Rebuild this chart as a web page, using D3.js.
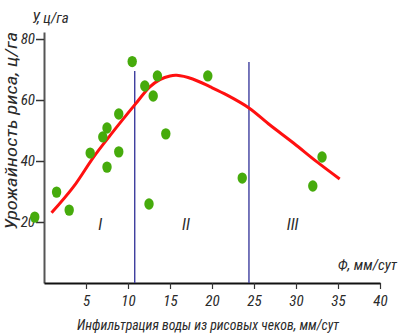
<!DOCTYPE html>
<html>
<head>
<meta charset="utf-8">
<script src="https://cdn.jsdelivr.net/npm/d3@7"></script>
<style>
body { margin:0; background:#fff; }
svg text { font-family:"Liberation Sans Narrow","Roboto Condensed","DejaVu Sans Condensed",sans-serif; font-style:italic; fill:#2a2a2a; }
</style>
</head>
<body>
<div id="spread"><svg></svg></div>
<script>
// measured points (infiltration, yield)
var pointsX = [-1.1, 1.5, 3.0, 5.5, 7.0, 7.5, 7.5, 8.9, 8.9, 10.5, 12.0, 12.5, 13.0, 13.5, 14.5, 19.5, 23.6, 32.0, 33.1];
var pointsY = [21.6, 29.8, 23.9, 42.6, 47.9, 50.8, 38.0, 55.4, 43.0, 72.6, 64.6, 25.9, 61.3, 67.9, 48.9, 67.9, 34.4, 31.8, 41.3];

// fitted curve
var curveX = [0.9, 3.5, 5.9, 7.9, 10.8, 12.6, 13.8, 15.0, 15.8, 17.7, 19.8, 21.8, 24.4, 26.9, 29.7, 32.5, 35.2];
var curveY = [23.0, 31.5, 41.3, 48.5, 58.4, 64.3, 66.7, 67.9, 68.1, 66.9, 64.3, 61.6, 57.4, 51.8, 45.9, 39.7, 34.1];

// zone borders
var borderX = [10.8, 24.4];
var borderTop = [69.5, 72.5];

var zoneLabels = ["I", "II", "III"];
var zoneX = [6.7, 16.9, 29.6];

var xTicks = [5, 10, 15, 20, 25, 30, 35, 40];
var yTicks = [20, 40, 60, 80];

var width = 398;
var height = 334;

var svg = d3.select("#spread svg")
    .attr("width", width)
    .attr("height", height);

var xScale = d3.scaleLinear()
    .domain([0, 40])
    .range([44, 380]);

var yScale = d3.scaleLinear()
    .domain([0, 82.3])
    .range([283, 32]);

// axes
var yAxis = svg.append("g")
    .attr("transform", "translate(44,0)")
    .call(d3.axisLeft(yScale).tickValues(yTicks).tickSize(8).tickSizeOuter(0).tickPadding(1));
yAxis.select(".domain").attr("stroke", "#555").attr("stroke-width", 2);
yAxis.selectAll(".tick line").attr("stroke", "#333").attr("stroke-width", 1.5);
yAxis.selectAll(".tick text")
    .attr("font-size", 15)
    .attr("font-family", null)
    .attr("fill", null);

var xAxis = svg.append("g")
    .attr("transform", "translate(0,283)")
    .call(d3.axisBottom(xScale).tickValues(xTicks).tickSize(6).tickSizeOuter(0).tickPadding(6));
xAxis.select(".domain").attr("stroke", "#111").attr("stroke-width", 2.2);
xAxis.selectAll(".tick line").attr("stroke", "#333").attr("stroke-width", 1.2);
xAxis.selectAll(".tick text")
    .attr("font-size", 15)
    .attr("font-family", null)
    .attr("fill", null);

// zone border lines
svg.selectAll("line.border")
    .data(borderX)
    .enter()
    .append("line")
    .attr("class", "border")
    .attr("x1", function(d) { return xScale(d); })
    .attr("x2", function(d) { return xScale(d); })
    .attr("y1", function(d, i) { return yScale(borderTop[i]); })
    .attr("y2", yScale(0))
    .attr("stroke", "#3d3d9e")
    .attr("stroke-width", 1.4);

// zone labels
svg.selectAll("text.zone")
    .data(zoneLabels)
    .enter()
    .append("text")
    .attr("class", "zone")
    .attr("x", function(d, i) { return xScale(zoneX[i]); })
    .attr("y", yScale(19) + 5)
    .attr("text-anchor", "middle")
    .attr("font-size", 16)
    .text(function(d) { return d; });

// curve
var curvePts = curveX.map(function(x, i) { return [x, curveY[i]]; });
var line = d3.line()
    .x(function(d) { return xScale(d[0]); })
    .y(function(d) { return yScale(d[1]); })
    .curve(d3.curveCatmullRom);

svg.append("path")
    .datum(curvePts)
    .attr("d", line)
    .attr("fill", "none")
    .attr("stroke", "#ff1010")
    .attr("stroke-width", 3);

// points
svg.selectAll("ellipse")
    .data(pointsX)
    .enter()
    .append("ellipse")
    .attr("cx", function(d) { return xScale(d); })
    .attr("cy", function(d, i) { return yScale(pointsY[i]); })
    .attr("rx", 4.7)
    .attr("ry", 5.7)
    .attr("fill", "#46ab0c");

// titles
svg.append("text")
    .attr("x", 32)
    .attr("y", 23)
    .attr("font-size", 15)
    .text("У, ц/га");

svg.append("text")
    .attr("transform", "translate(17,131) rotate(-90)")
    .attr("text-anchor", "middle")
    .attr("font-size", 16)
    .attr("textLength", 198)
    .attr("lengthAdjust", "spacingAndGlyphs")
    .text("Урожайность риса, ц/га");

svg.append("text")
    .attr("x", 397)
    .attr("y", 270)
    .attr("text-anchor", "end")
    .attr("font-size", 15)
    .text("Ф, мм/сут");

svg.append("text")
    .attr("x", 208)
    .attr("y", 330)
    .attr("text-anchor", "middle")
    .attr("font-size", 15)
    .attr("textLength", 262)
    .attr("lengthAdjust", "spacingAndGlyphs")
    .text("Инфильтрация воды из рисовых чеков, мм/сут");
</script>
</body>
</html>
